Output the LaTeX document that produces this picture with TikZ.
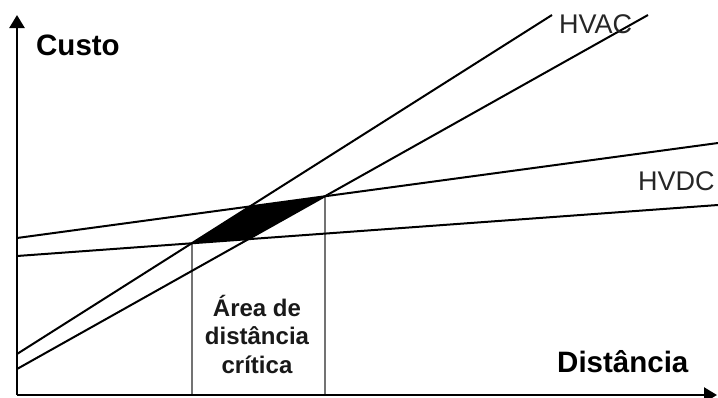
\documentclass[tikz,border=0pt]{standalone}
\usepackage{fontspec}
\setmainfont{Liberation Sans}
\usetikzlibrary{arrows.meta,intersections}
\begin{document}
\begin{tikzpicture}[x=1pt,y=-1pt,
  curve/.style={line width=2pt,draw=black},
  guide/.style={line width=2pt,draw=black!55},
  axis/.style={line width=2.4pt,draw=black,-{Triangle[length=13pt,width=15pt]}},
  boldlbl/.style={font=\bfseries\fontsize{29.5}{32}\selectfont,inner sep=0pt,text=black},
  linelbl/.style={font=\fontsize{27}{30}\selectfont,inner sep=0pt,text=black!85},
  arealbl/.style={font=\bfseries\fontsize{24}{28.5}\selectfont,inner sep=0pt,align=center,text=black!90}]
\useasboundingbox (0,0) rectangle (718,397);
% line end points
\coordinate (dcuL) at (17,238);
\coordinate (dcuR) at (718,143);
\coordinate (dclL) at (17,256);
\coordinate (dclR) at (718,205);
\coordinate (acuL) at (17,354);
\coordinate (acuR) at (552,15);
\coordinate (aclL) at (17,369);
\coordinate (aclR) at (648,15);
\path[name path=dcu] (dcuL) -- (dcuR);
\path[name path=dcl] (dclL) -- (dclR);
\path[name path=acu] (acuL) -- (acuR);
\path[name path=acl] (aclL) -- (aclR);
\path[name intersections={of=acu and dcl,by=P1}];
\path[name intersections={of=acu and dcu,by=P2}];
\path[name intersections={of=acl and dcu,by=P3}];
\path[name intersections={of=acl and dcl,by=P4}];
% critical area
\fill[black] (P1) -- (P2) -- (P3) -- (P4) -- cycle;
% axes
\coordinate (O) at (17,395);
\coordinate (Ytip) at (17,15);
\coordinate (Xtip) at (717,395);
\draw[guide] (P1) -- (P1 |- O);
\draw[guide] (P3) -- (P3 |- O);
\draw[curve] (dcuL) -- (dcuR);
\draw[curve] (dclL) -- (dclR);
\draw[curve] (acuL) -- (acuR);
\draw[curve] (aclL) -- (aclR);
\draw[axis] (O) -- (Ytip);
\draw[axis] (O) -- (Xtip);
% labels
\node[boldlbl,anchor=base west] (custo) at (36,55) {Custo};
\node[boldlbl,anchor=base west] (dist) at (557,372) {Distância};
\node[linelbl,anchor=base west] (hvac) at (559,33) {HVAC};
\node[linelbl,anchor=base west] (hvdc) at (638,190) {HVDC};
\node[arealbl] (area) at (257,334) {Área de\\distância\\crítica};
\end{tikzpicture}
\end{document}
